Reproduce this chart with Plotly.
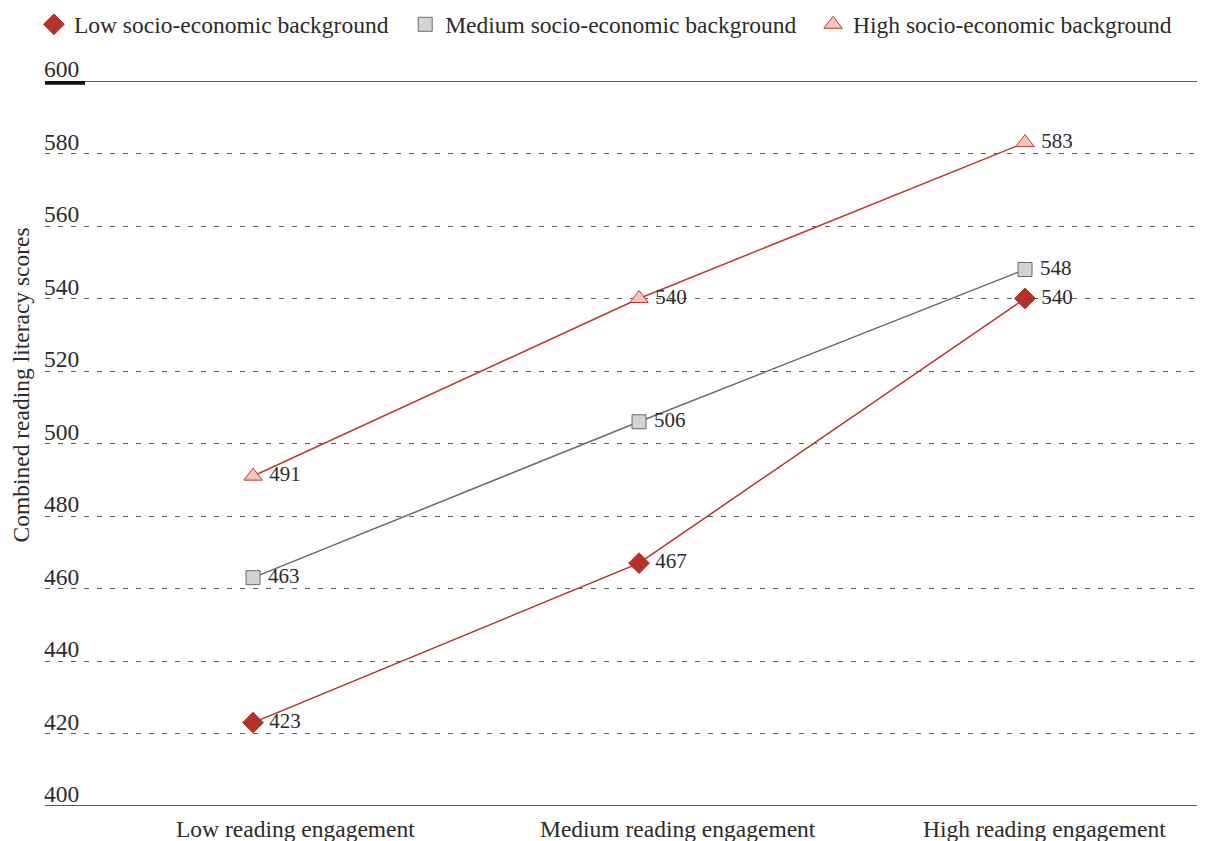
import plotly.graph_objects as go

categories = ["Low reading engagement", "Medium reading engagement", "High reading engagement"]
series_names = ["Low socio-economic background", "Medium socio-economic background", "High socio-economic background"]
low_vals = [423, 467, 540]
med_vals = [463, 506, 548]
high_vals = [491, 540, 583]
y_ticks = [400, 420, 440, 460, 480, 500, 520, 540, 560, 580, 600]
y_title = "Combined reading literacy scores"
label_offsets = [0.11, 1.10, 2.05]

FONT = "Liberation Serif"
TXT = "#2b2b2b"
FS = 23.5
PLOT_W = 1168
xs = list(range(len(categories)))

fig = go.Figure()
styles = [
    dict(vals=low_vals, symbol="diamond", size=16, fill="#B3322A", edge="#B3322A", line="#B3322A"),
    dict(vals=med_vals, symbol="square", size=14, fill="#D2D3D5", edge="#6B6B6B", line="#6B6B6B"),
    dict(vals=high_vals, symbol="triangle-up", size=16, fill="#F2C6B9", edge="#C0392B", line="#C0392B"),
]
for name, s in zip(series_names, styles):
    mk = dict(symbol=s["symbol"], size=s["size"], color=s["fill"], line=dict(color=s["edge"], width=1))
    fig.add_trace(go.Scatter(
        x=xs, y=s["vals"], name=name, mode="lines+markers+text", showlegend=False,
        text=[" " + str(v) for v in s["vals"]], textposition="middle right",
        textfont=dict(family=FONT, size=21, color=TXT),
        line=dict(color=s["line"], width=1.5), marker=mk, cliponaxis=False,
    ))
    fig.add_trace(go.Scatter(x=[None], y=[None], name=name + "  ", mode="markers", marker=mk,
                             showlegend=True))

fig.update_layout(
    width=1205, height=841,
    margin=dict(l=37, r=0, t=73, b=43, autoexpand=False),
    plot_bgcolor="white", paper_bgcolor="white",
    font=dict(family=FONT, size=FS, color=TXT),
    showlegend=True,
    legend=dict(orientation="h", x=-0.0095, y=1.0779, xanchor="left", yanchor="middle",
                font=dict(family=FONT, size=FS, color=TXT), itemwidth=30, tracegroupgap=0),
    xaxis=dict(range=[-0.539, 2.487], showticklabels=False, showgrid=False, zeroline=False,
               showline=False, ticks=""),
    yaxis=dict(range=[400, 600], tickvals=y_ticks, showticklabels=False,
               showgrid=True, gridcolor="#5f5f5f", gridwidth=1, griddash="5px,8px",
               zeroline=False, showline=False, ticks=""),
)

# solid top/bottom lines and thick tick marks
for v in (y_ticks[0], y_ticks[-1]):
    fig.add_shape(type="line", xref="paper", yref="y", x0=0, x1=1, y0=v, y1=v,
                  line=dict(color="#222222", width=1.5))
    fig.add_shape(type="rect", xref="paper", yref="y", x0=0, x1=40 / PLOT_W, y0=v, y1=v - 1.0,
                  line=dict(width=0), fillcolor="#111111")

for v in y_ticks:
    fig.add_annotation(x=0, y=v, xref="paper", yref="y", text=str(v), showarrow=False,
                       xanchor="left", yanchor="bottom", xshift=-3, yshift=-3,
                       font=dict(family=FONT, size=FS, color=TXT))

for c, off in zip(categories, label_offsets):
    fig.add_annotation(x=off, y=0, xref="x", yref="paper", text=c, showarrow=False,
                       yanchor="middle", yshift=-23, font=dict(family=FONT, size=FS, color=TXT))

fig.add_annotation(x=0, y=0.5, xref="paper", yref="paper", text=y_title, showarrow=False,
                   textangle=-90, xanchor="center", yanchor="middle", xshift=-25, yshift=58,
                   font=dict(family=FONT, size=FS, color=TXT))

fig.write_html("out.html")
